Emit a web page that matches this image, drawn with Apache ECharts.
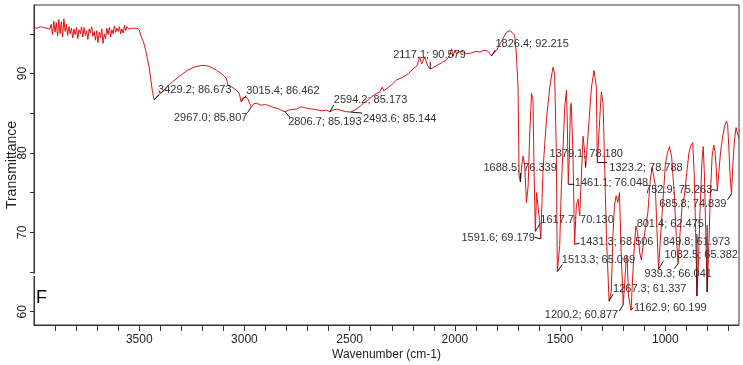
<!DOCTYPE html>
<html><head><meta charset="utf-8">
<script src="https://cdn.jsdelivr.net/npm/echarts@6/dist/echarts.min.js"></script>
<style>html,body{margin:0;padding:0;background:#fff}#c{width:743px;height:365px}</style>
</head><body><div id="c"></div>
<script>
// ---- data ----
const wavenumbers = [
4000,3992,3985,3978,3970,3962,3955,3948,3940,3932,3925,3918,3912,3906,3900,3894,3888,3882,3876,3870,3864,3858,3852,3846,3840,3834,3828,3822,3816,3810,3804,3798,3792,3786,3780,3774,3768,3762,3756,3750,3744,3738,3732,3726,3720,3714,3708,3702,3696,3690,3684,3678,3672,3666,3660,3654,3648,3642,3636,3630,3624,3618,3612,3606,3600,3594,3588,3582,3576,3570,3564,3558,3550,3542,3534,3525,3510,3500,3493,3480,3469,3453,3438,3429.2,3420,3400,3386,3366,3340,3307,3271,3240,3208,3180,3160,3145,3133,3110,3086,3080,3078,3060,3038,3025,3015.4,3005,2998,2990,2982,2975,2967.0,2955,2942,2920,2900,2879,2860,2840,2820,2806.7,2790,2770,2752,2735,2721,2700,2673,2650,2630,2610,2594.2,2580,2562,2545,2520,2493.6,2470,2450,2436,2410,2390,2370,2357,2345,2338,2300,2277,2250,2220,2198,2180,2167,2158,2151,2143,2130,2117.1,2100,2080,2060,2040,2025,2016,2008,2000,1992,1975,1961,1945,1920,1900,1882,1865,1850,1840,1826.4,1815,1803,1780,1755,1739,1725,1716,1708,1700,1695,1688.5,1682,1676,1668,1660,1652,1645,1636,1629,1624,1617.7,1612,1605,1598,1591.6,1586,1581,1565,1549,1534,1526,1518,1513.3,1502,1494,1478,1470,1466,1461.1,1456,1451,1447,1439,1431.3,1423,1415,1407,1391,1383,1379.1,1368,1351,1339,1328,1323.2,1312,1304,1296,1288,1280,1267.3,1257,1249,1242,1234,1226,1218,1210,1200.2,1194,1186,1182,1175,1162.9,1155,1148,1140,1132,1122,1114,1105,1095,1083,1072,1063,1055,1048,1040,1032.5,1025,1015,1000,990,980,970,958,948,939.3,930,920,910,900,888,878,870,863,856,849.8,843,835,826,820,814,808,801.4,795,787,778,770,764,758,752.9,746,738,728,718,710,704,698,692,685.8,679,672,664,658,650
];
const transmittance = [
95.8,95.9,95.7,95.8,95.9,95.7,95.8,96.0,95.7,95.9,95.6,96.2,94.9,96.6,95.2,96.4,94.7,96.8,95.0,96.5,94.6,96.9,95.3,96.2,94.8,95.9,95.0,95.7,94.5,95.6,94.9,95.8,94.4,95.5,95.0,95.9,94.6,95.8,94.8,95.4,94.3,95.6,95.1,95.9,94.7,95.3,94.2,95.4,93.9,95.2,94.5,95.6,93.8,95.0,94.4,95.7,94.9,95.8,94.6,95.5,95.0,96.0,95.2,95.7,95.3,95.9,95.0,95.6,95.1,96.1,95.4,95.9,95.6,95.8,95.7,95.8,95.7,95.5,94.8,94.0,92.9,90.8,87.9,86.673,87.0,87.5,87.8,88.4,89.0,89.7,90.4,90.8,91.0,91.0,90.8,90.6,90.4,90.0,89.4,89.2,88.5,88.3,87.9,87.5,86.462,87.0,87.2,87.0,86.7,86.2,85.807,86.2,86.25,86.0,86.1,85.9,85.7,85.6,85.3,85.193,85.4,85.5,85.5,85.8,85.75,85.6,85.5,85.4,85.3,85.4,85.173,85.4,85.5,85.4,85.2,85.144,85.5,85.9,86.25,86.7,87.2,87.5,87.7,88.3,87.8,88.6,89.2,89.5,90.0,90.6,91.0,92.1,91.2,91.25,92.1,91.0,90.579,90.8,91.1,91.4,91.7,92.3,93.1,92.2,92.9,92.5,92.8,92.7,92.5,92.6,92.8,92.7,92.9,92.9,92.7,92.215,92.6,92.9,94.0,95.2,95.4,95.1,94.8,92.5,88.3,77.1,76.339,78.5,79.6,78.3,73.75,75.8,82.0,87.5,86.7,78.0,70.130,75.0,73.3,71.5,69.179,74.0,78.0,84.2,88.3,90.8,90.0,80.0,65.069,68.3,75.8,85.8,87.9,84.0,76.048,80.0,85.8,86.25,80.0,68.506,73.3,74.2,72.1,82.1,80.0,78.180,82.1,88.3,90.4,88.3,78.788,84.2,87.7,86.25,77.9,69.6,61.337,62.5,69.6,73.3,74.6,73.75,75.0,67.5,60.877,63.3,66.7,67.0,62.0,60.199,64.5,68.0,70.8,70.0,67.5,66.5,68.5,70.5,72.5,76.5,78.2,78.4,76.0,70.5,65.382,68.5,72.5,78.5,80.0,80.8,79.5,75.0,69.5,66.041,70.0,73.5,74.5,77.0,80.0,81.0,81.3,77.5,70.0,61.973,66.0,73.0,79.0,80.8,77.0,70.0,62.475,67.0,74.0,79.5,81.0,80.2,78.0,75.263,77.5,80.0,82.0,83.4,84.0,83.6,80.5,77.0,74.839,78.5,81.5,83.2,82.5,81.8
];
const peakWavenumbers = [3429.2,3015.4,2967.0,2806.7,2594.2,2493.6,2117.1,1826.4,1688.5,1617.7,1591.6,1513.3,1461.1,1431.3,1379.1,1323.2,1267.3,1200.2,1162.9,1032.5,939.3,849.8,801.4,752.9,685.8];
const peakTransmittance = [86.673,86.462,85.807,85.193,85.173,85.144,90.579,92.215,76.339,70.130,69.179,65.069,76.048,68.506,78.180,78.788,61.337,60.877,60.199,65.382,66.041,61.973,62.475,75.263,74.839];
const xTickValues = [700,800,900,1000,1100,1200,1300,1400,1500,1600,1700,1800,1900,2000,2100,2200,2300,2400,2500,2600,2700,2800,2900,3000,3100,3200,3300,3400,3500,3600,3700,3800,3900];
const xLabelValues = [1000,1500,2000,2500,3000,3500];
const yTickValues = [60,65,70,75,80,85,90,95];
const yLabelValues = [60,70,80,90];
const xAxisTitle = 'Wavenumber (cm-1)';
const yAxisTitle = 'Transmittance';
const panelLetter = 'F';

// ---- layout of peak annotations (text offset x,y, align, leader end x,y) ----
const peakLabelLayout = [
[4,-10,'left',5,-5],[5,-11,'left',5,-6],[-4,11,'right',-4,6],[3,10.5,'left',5,6],[4,-12,'left',4,-7],
[12,7,'left',11,1],[-37,-13.5,'left',0,-7],[4,-11.5,'left',4,-6],[-37,-14.5,'left',0,-9],[5,-11.5,'left',5,-8],
[-6,-1,'right',-6,-1.5],[4.5,-11.5,'left',5,-7],[6.5,-1,'left',6,0],[5.5,-2,'left',5,-1],[-36,-13.5,'left',0,-6],
[12,5.5,'left',10,0],[4,-12.5,'left',4,-7],[-5,10,'right',-4,6.5],[3,-2.5,'left',2,-2.5],[6,-14.5,'left',5,-8],
[-33.5,10.5,'left',-4,5],[-34,-54.5,'left',0,-62],[-70.5,-68,'left',0,-67],[-5,-1,'right',-5,-1],[-5,10.5,'right',-4,6]
];

const FONT = 'Arial, "Liberation Sans", sans-serif';
const chart = echarts.init(document.getElementById('c'), null, {renderer:'canvas'});
const option = {
  animation:false,
  backgroundColor:'#fff',
  grid:{left:34,right:4,top:5,bottom:40,containLabel:false,outerBoundsMode:'none',show:true,borderColor:'#333',borderWidth:1,backgroundColor:'transparent'},
  xAxis:{type:'value',inverse:true,min:650,max:4000,
    name:xAxisTitle,nameLocation:'middle',nameGap:24,nameMoveOverlap:false,
    nameTextStyle:{fontSize:12,color:'#222',fontFamily:FONT},
    axisLine:{show:true,onZero:false,lineStyle:{color:'#333',width:1}},
    axisTick:{show:true,length:6,customValues:xTickValues,lineStyle:{color:'#333'}},
    axisLabel:{customValues:xLabelValues,formatter:v=>String(v),fontSize:12,color:'#222',fontFamily:FONT,margin:9},
    splitLine:{show:false}},
  yAxis:{type:'value',min:58.33,max:98.63,
    name:yAxisTitle,nameLocation:'middle',nameGap:15,nameRotate:90,nameMoveOverlap:false,
    nameTextStyle:{fontSize:14,color:'#222',fontFamily:FONT},
    axisLine:{show:true,onZero:false,lineStyle:{color:'#333',width:1}},
    axisTick:{show:true,length:4,customValues:yTickValues,lineStyle:{color:'#333'}},
    axisLabel:{customValues:yLabelValues,formatter:v=>String(v),rotate:90,fontSize:12,color:'#222',fontFamily:FONT,margin:5},
    splitLine:{show:false}},
  series:[{type:'line',data:wavenumbers.map((w,i)=>[w,transmittance[i]]),showSymbol:false,
    lineStyle:{color:'#e01414',width:1},itemStyle:{color:'#e01414'},z:3}]
};
chart.setOption(option);

const g = [];
peakWavenumbers.forEach((wn,i)=>{
  const t = peakTransmittance[i];
  const p = chart.convertToPixel({xAxisIndex:0,yAxisIndex:0},[wn,t]);
  const L = peakLabelLayout[i];
  g.push({type:'line',shape:{x1:p[0],y1:p[1],x2:p[0]+L[3],y2:p[1]+L[4]},style:{stroke:'#111',lineWidth:1},z:10});
  g.push({type:'text',x:p[0]+L[0],y:p[1]+L[1],z:11,
    style:{text:wn.toFixed(1)+'; '+t.toFixed(3),fill:'#333',fontSize:11,fontFamily:FONT,align:L[2],verticalAlign:'middle'}});
});
g.push({type:'text',left:36,top:289,z:12,style:{text:panelLetter,fill:'#000',fontSize:18,fontFamily:FONT}});
g.push({type:'rect',shape:{x:32,y:273.5,width:4,height:2.5},style:{fill:'#fff'},z:12});
chart.setOption({graphic:g});
</script>
</body></html>
